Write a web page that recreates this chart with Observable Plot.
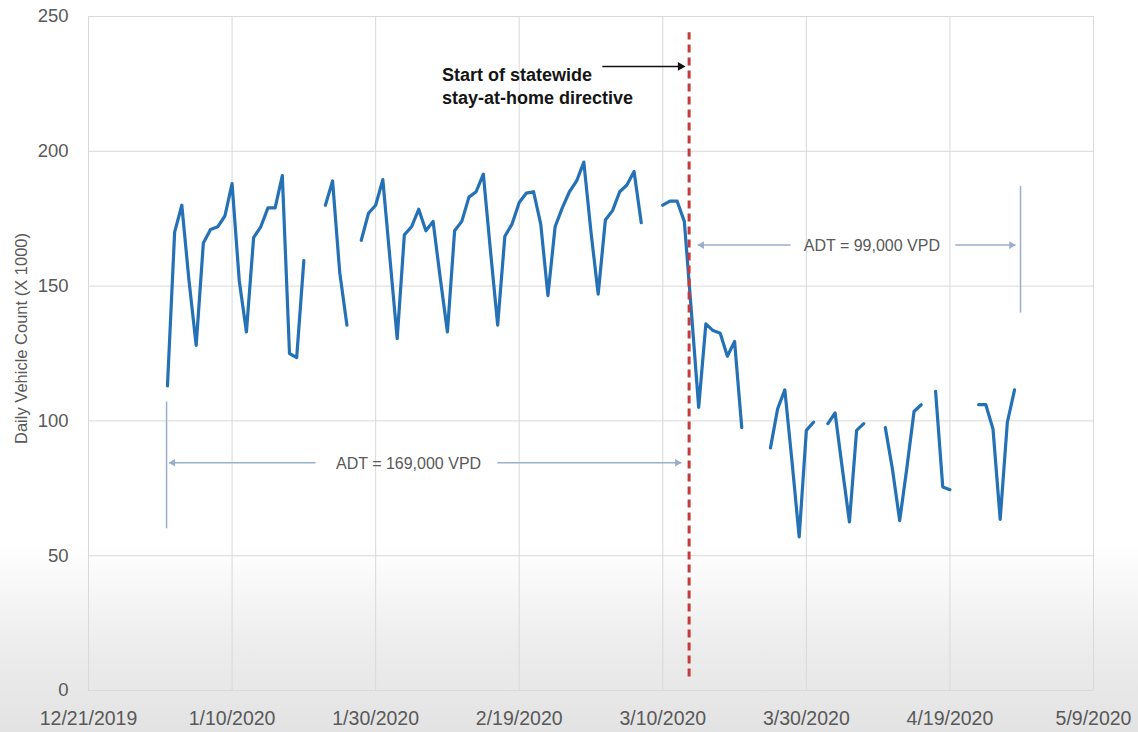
<!DOCTYPE html>
<html><head><meta charset="utf-8">
<script src="https://cdn.jsdelivr.net/npm/d3@7"></script>
<script src="https://cdn.jsdelivr.net/npm/@observablehq/plot@0.6"></script>
<style>
html,body{margin:0;padding:0;}
body{width:1138px;height:732px;overflow:hidden;background:linear-gradient(to bottom,#fff 0px,#fff 545px,#ececec 650px,#e3e3e3 732px);}
#chart svg{background:transparent !important;}
</style></head><body><div id="chart"></div>
<script>
// ---- data ----
const startDate = "2020-01-01";
const dailyCounts = [
  // January
  113,170,180,152,128,166,171,172,176,188,152,133,168,172,179,179,191,125,123.5,159.5,null,null,180,189,155,135.5,null,167,177,180,189.5,
  // February
  160,130.5,169,172,178.5,170.5,174,153,133,170.5,174,183,185,191.5,163,135.5,168.5,173,181,184.5,185,173,146.5,172,179,185,189,196,170,
  // March
  147,174.5,178,185,187.5,192.5,173.5,null,null,180,181.5,181.5,174,140,105,136,133.5,132.5,124,129.5,97.5,null,null,null,90,104.5,111.5,85,57,96.5,99.5,
  // April
  null,99,103,82.5,62.5,96.5,99,null,null,97.5,82,63,82.5,103.5,106,null,111,75.5,74.5,null,null,null,106,106,97,63.5,99.5,111.5
];
const xTicks = ["2019-12-21","2020-01-10","2020-01-30","2020-02-19","2020-03-10","2020-03-30","2020-04-19","2020-05-09"];
const yTicks = [0, 50, 100, 150, 200, 250];
const yLabel = "Daily Vehicle Count (X 1000)";

// annotations
const directiveDate = "2020-03-13T16:00Z";
const directiveSpan = [5, 244];
const directiveText = "Start of statewide\nstay-at-home directive";
const directiveTextAt = {x: "2020-02-08T06:00Z", y: 224.7};
const directiveArrow = {x1: "2020-03-01T14:00Z", x2: "2020-03-12T21:00Z", y: 231.5};

const adtLabels = ["ADT = 169,000 VPD", "ADT = 99,000 VPD"];
const adtLabelX = ["2020-02-03T14:00Z", "2020-04-08T03:00Z"];
const adtLevel = [84.5, 165.2];
const adtStart = ["2020-01-01T05:00Z", "2020-03-14T21:00Z"];
const adtGapStart = ["2020-01-21T15:00Z", "2020-03-27T19:00Z"];
const adtGapEnd = ["2020-02-15T23:00Z", "2020-04-19T18:00Z"];
const adtEnd = ["2020-03-12T14:00Z", "2020-04-28T03:00Z"];
const adtBarX = ["2019-12-31T21:00Z", "2020-04-28T20:00Z"];
const adtBarLow = [60, 140];
const adtBarHigh = [107, 187];

// ---- build tables ----
const t0 = new Date(startDate + "T00:00Z");
const series = dailyCounts.map((v, i) => ({date: d3.utcDay.offset(t0, i), count: v}));
const D = s => new Date(s.length === 10 ? s + "T00:00Z" : s);
const tickDates = xTicks.map(D);
const fmt = d => `${d.getUTCMonth() + 1}/${d.getUTCDate()}/${d.getUTCFullYear()}`;

const adt = adtLabels.map((t, i) => ({
  text: t, x: D(adtLabelX[i]), y: adtLevel[i],
  start: D(adtStart[i]), gs: D(adtGapStart[i]), ge: D(adtGapEnd[i]), end: D(adtEnd[i]),
  barX: D(adtBarX[i]), lo: adtBarLow[i], hi: adtBarHigh[i]
}));
const adtColor = "#99aecb";

const chart = Plot.plot({
  width: 1138, height: 732,
  marginLeft: 88, marginRight: 45, marginTop: 16, marginBottom: 42,
  style: {background: "transparent", fontFamily: "'Liberation Sans', Arial, sans-serif"},
  x: {type: "utc", domain: [D(xTicks[0]), D(xTicks[xTicks.length - 1])]},
  y: {domain: [0, 250]},
  marks: [
    Plot.gridX(tickDates, {stroke: "#d9d9d9", strokeOpacity: 1, strokeWidth: 1}),
    Plot.gridY(yTicks, {stroke: "#d9d9d9", strokeOpacity: 1, strokeWidth: 1}),
    Plot.axisX(tickDates, {tickSize: 0, tickPadding: 21, tickFormat: fmt, fontSize: 19.5, color: "#595959", label: null}),
    Plot.axisY(yTicks, {tickSize: 0, tickPadding: 20, fontSize: 18.5, color: "#595959", label: null}),
    Plot.text([yLabel], {text: d => d, frameAnchor: "left", textAnchor: "middle", dx: -67, dy: -15, rotate: -90, fontSize: 16.5, fill: "#595959"}),
    // ADT annotations
    Plot.ruleX(adt, {x: "barX", y1: "lo", y2: "hi", stroke: adtColor, strokeWidth: 1.5}),
    Plot.link(adt, {x1: "start", x2: "gs", y1: "y", y2: "y", stroke: adtColor, strokeWidth: 1.5}),
    Plot.link(adt, {x1: "ge", x2: "end", y1: "y", y2: "y", stroke: adtColor, strokeWidth: 1.5}),
    Plot.dot(adt, {x: "start", y: "y", symbol: "triangle", rotate: -90, r: 2.8, fill: adtColor, stroke: null, dx: 4}),
    Plot.dot(adt, {x: "end", y: "y", symbol: "triangle", rotate: 90, r: 2.8, fill: adtColor, stroke: null, dx: -4}),
    Plot.text(adt, {x: "x", y: "y", text: "text", fontSize: 16, fill: "#595959", dy: 1}),
    // data line
    Plot.line(series, {x: "date", y: "count", stroke: "#2471b5", strokeWidth: 3.2, strokeLinejoin: "round"}),
    // directive
    Plot.ruleX([D(directiveDate)], {y1: directiveSpan[0], y2: directiveSpan[1], stroke: "#c43b3b", strokeWidth: 3, strokeDasharray: "8,5"}),
    Plot.link([directiveArrow], {x1: d => D(d.x1), x2: d => D(d.x2), y1: "y", y2: "y", stroke: "#111", strokeWidth: 1.5}),
    Plot.dot([directiveArrow], {x: d => D(d.x2), y: "y", symbol: "triangle", rotate: 90, r: 3.3, fill: "#111", stroke: null, dx: -3}),
    Plot.text([directiveText], {x: () => D(directiveTextAt.x), y: () => directiveTextAt.y, text: d => d, textAnchor: "start", fontWeight: "bold", fontSize: 18, lineHeight: 1.3, fill: "#151515"})
  ]
});
document.getElementById("chart").appendChild(chart);
</script>
</body></html>
